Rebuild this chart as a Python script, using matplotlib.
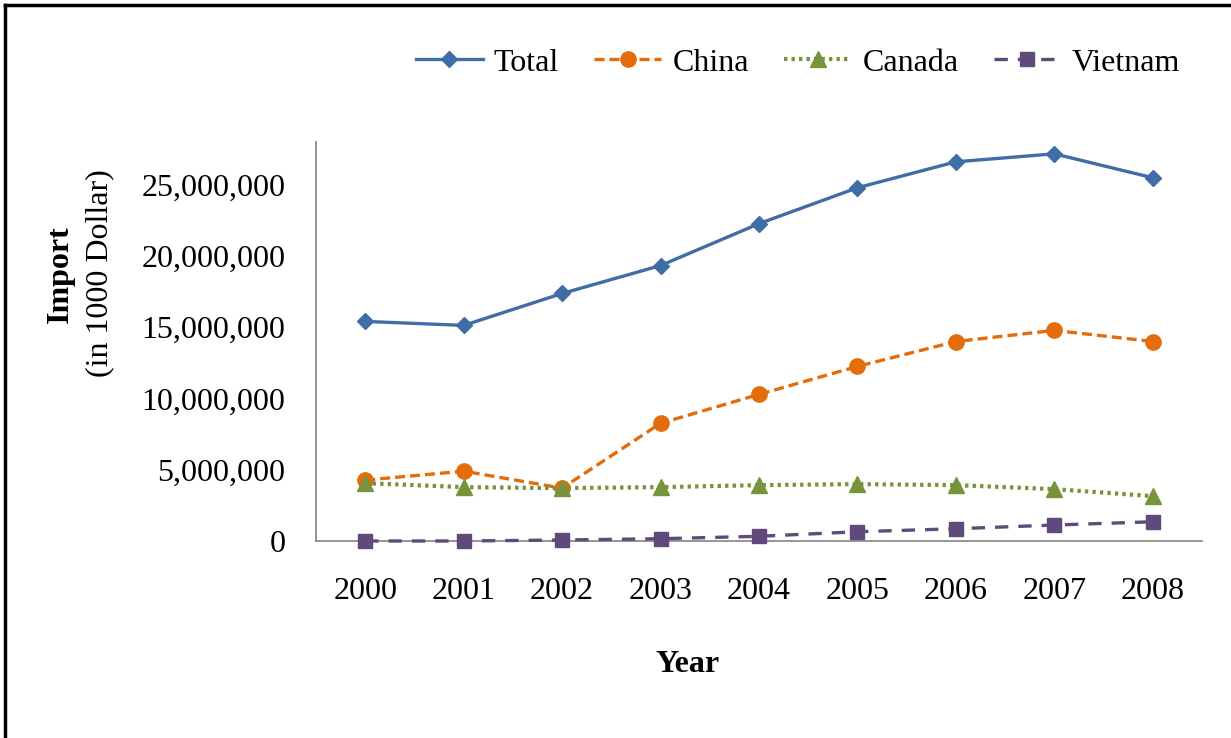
import numpy as np
import matplotlib
matplotlib.use("Agg")
import matplotlib.pyplot as plt
from matplotlib.lines import Line2D
from matplotlib.ticker import FuncFormatter

# values (in 1000 Dollar)
years = ["2000", "2001", "2002", "2003", "2004", "2005", "2006", "2007", "2008"]
total = [15.41e6, 15.13e6, 17.37e6, 19.33e6, 22.27e6, 24.79e6, 26.61e6, 27.17e6, 25.49e6]
china = [4.27e6, 4.90e6, 3.71e6, 8.26e6, 10.29e6, 12.25e6, 14.00e6, 14.78e6, 14.00e6]
canada = [4.06e6, 3.78e6, 3.71e6, 3.78e6, 3.92e6, 3.99e6, 3.92e6, 3.64e6, 3.15e6]
vietnam = [0.0, 0.0, 0.07e6, 0.16e6, 0.33e6, 0.65e6, 0.86e6, 1.12e6, 1.35e6]

plt.rcParams["font.family"] = ["Liberation Serif", "DejaVu Serif"]
FS = 23

fig = plt.figure(figsize=(12.31, 7.38), dpi=100)
ax = fig.add_axes([316/1231, 1-541/738, (1202-316)/1231, (541-142)/738])
x = np.arange(len(years))

ax.plot(x, total, "-", color="#416DA6", lw=2.4, marker="D", ms=8, label="Total", clip_on=False)
ax.plot(x, china, "--", color="#E46C0A", lw=2.4, marker="o", ms=11, label="China", dashes=(3, 1.5), clip_on=False)
ax.plot(x, canada, ":", color="#77933C", lw=3, marker="^", ms=11, label="Canada", dashes=(0.8, 1), clip_on=False)
ax.plot(x, vietnam, "--", color="#604A7B", lw=2.4, marker="s", ms=10, label="Vietnam", dashes=(4, 3),
        clip_on=False, zorder=3)

ax.set_xlim(-0.5, len(years)-0.5)
ax.set_ylim(0, 28e6)
ax.set_yticks(np.arange(0, 25e6+1, 5e6))
ax.yaxis.set_major_formatter(FuncFormatter(lambda v, p: f"{int(v):,}"))
ax.set_xticks(x)
ax.set_xticklabels(years)
ax.tick_params(length=0, labelsize=FS)
ax.tick_params(axis="x", pad=26)
ax.tick_params(axis="y", pad=22)
for s in ("top", "right"):
    ax.spines[s].set_visible(False)
for s in ("left", "bottom"):
    ax.spines[s].set_color("#8c8c8c")
    ax.spines[s].set_linewidth(1.3)
    ax.spines[s].set_zorder(1)

fig.text(60/1231, 1-274/738, "Import", rotation=90, ha="center", va="center", fontsize=FS, fontweight="bold")
fig.text(100/1231, 1-273/738, "(in 1000 Dollar)", rotation=90, ha="center", va="center", fontsize=FS)
fig.text(688/1231, 1-665/738, "Year", ha="center", va="center", fontsize=FS, fontweight="bold")

fig.legend(loc="center", bbox_to_anchor=(798/1231, 1-63/738), ncol=4, frameon=False, fontsize=FS,
           handlelength=2.1, columnspacing=1.1, handletextpad=0.35)

# outer frame (top and left edges visible)
fig.add_artist(Line2D([5/1231, 1], [1-5/738, 1-5/738], color="black", lw=2.5, transform=fig.transFigure))
fig.add_artist(Line2D([5/1231, 5/1231], [0, 1-5/738], color="black", lw=2.5, transform=fig.transFigure))

fig.savefig("out.png", dpi=100)
